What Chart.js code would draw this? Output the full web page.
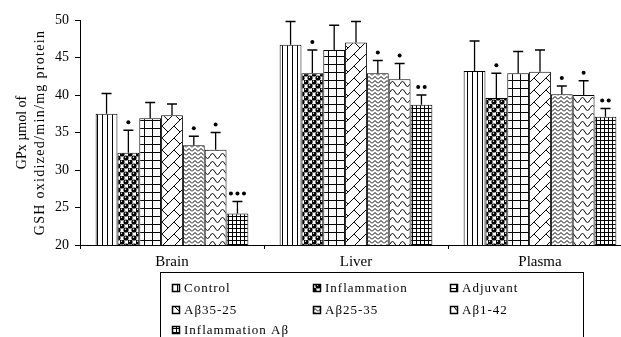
<!DOCTYPE html>
<html lang="en">
<head>
    <meta charset="UTF-8">
    <title>GPx activity</title>
    <script src="https://cdn.jsdelivr.net/npm/chart.js"></script>
    <style>
        html, body { margin: 0; padding: 0; overflow: hidden; background: #fff; }
        #wrap { width: 640px; height: 337px; position: relative; }
    </style>
</head>
<body>
<div id="wrap"><canvas id="gpxChart"></canvas></div>

<script>
    // data (mean and upper error)
    const categories = ['Brain', 'Liver', 'Plasma'];
    const seriesNames = ['Control', 'Inflammation', 'Adjuvant', 'A\u03b235-25', 'A\u03b225-35', 'A\u03b21-42', 'Inflammation A\u03b2'];

    const control = [37.5, 46.7, 43.2];
    const inflammation = [32.3, 42.9, 39.6];
    const adjuvant = [36.9, 46.0, 42.9];
    const ab3525 = [37.3, 47.0, 43.1];
    const ab2535 = [33.3, 42.9, 40.1];
    const ab142 = [32.7, 42.1, 40.0];
    const inflAb = [24.2, 38.7, 37.1];

    const controlErr = [2.7, 3.1, 4.0];
    const inflammationErr = [3.0, 3.1, 3.3];
    const adjuvantErr = [2.1, 3.3, 2.9];
    const ab3525Err = [1.5, 2.8, 2.9];
    const ab2535Err = [1.2, 1.7, 1.1];
    const ab142Err = [2.3, 2.1, 1.9];
    const inflAbErr = [1.6, 1.3, 1.1];

    // number of significance dots above each bar
    const controlSig = [0, 0, 0];
    const inflammationSig = [1, 1, 1];
    const adjuvantSig = [0, 0, 0];
    const ab3525Sig = [0, 0, 0];
    const ab2535Sig = [1, 1, 1];
    const ab142Sig = [1, 1, 1];
    const inflAbSig = [3, 2, 2];

    const yTicks = [20, 25, 30, 35, 40, 45, 50];
    const yTitle = ['GPx \u00b5mol of', 'GSH oxidized/min/mg protein'];

    const values = [control, inflammation, adjuvant, ab3525, ab2535, ab142, inflAb];
    const errors = [controlErr, inflammationErr, adjuvantErr, ab3525Err, ab2535Err, ab142Err, inflAbErr];
    const sigs = [controlSig, inflammationSig, adjuvantSig, ab3525Sig, ab2535Sig, ab142Sig, inflAbSig];

    const canvas = document.getElementById('gpxChart');
    const ctx = canvas.getContext('2d');

    function makePattern(w, h, draw) {
        const c = document.createElement('canvas');
        c.width = w; c.height = h;
        const g = c.getContext('2d');
        g.fillStyle = '#fff';
        g.fillRect(0, 0, w, h);
        g.fillStyle = '#000';
        g.strokeStyle = '#000';
        g.lineWidth = 1;
        draw(g, w, h);
        return ctx.createPattern(c, 'repeat');
    }

    function dot(g, x, y, r) {
        g.beginPath(); g.arc(x, y, r, 0, Math.PI * 2); g.fill();
    }

    const patterns = [
        makePattern(5, 5, g => g.fillRect(2, 0, 1, 5)),
        makePattern(8, 8, g => {
            [[2, 2], [6, 6], [6, -2], [-2, 6], [6, 10], [10, 6], [-2, -2], [10, 10], [10, -2], [-2, 10]]
                .forEach(p => dot(g, p[0], p[1], 2.6));
            g.fillStyle = '#fff';
            dot(g, 1.5, 1.3, 0.7);
            dot(g, 5.5, 5.3, 0.7);
        }),
        makePattern(8, 8, g => { g.fillRect(0, 0, 8, 1); g.fillRect(0, 0, 1, 8); }),
        makePattern(12, 12, g => {
            g.beginPath();
            g.moveTo(-1, 13); g.lineTo(13, -1);
            g.moveTo(6, 6); g.lineTo(12, 12);
            g.stroke();
        }),
        makePattern(6, 4, g => {
            g.beginPath();
            g.moveTo(0, 3.5); g.lineTo(3, 0.5); g.lineTo(6, 3.5);
            g.stroke();
        }),
        makePattern(10, 8, g => {
            g.beginPath();
            g.moveTo(0, 4);
            g.quadraticCurveTo(2.5, -1, 5, 4);
            g.quadraticCurveTo(7.5, 9, 10, 4);
            g.stroke();
        }),
        makePattern(4, 4, g => { g.fillRect(0, 0, 4, 1); g.fillRect(0, 0, 1, 4); })
    ];

    const serif = "'Liberation Serif', 'DejaVu Serif', serif";

    const errorBars = {
        id: 'errorBars',
        afterDatasetsDraw(chart) {
            const c = chart.ctx;
            const y = chart.scales.y;
            c.save();
            c.strokeStyle = '#000';
            c.fillStyle = '#000';
            c.lineWidth = 1.3;
            chart.data.datasets.forEach((ds, i) => {
                const meta = chart.getDatasetMeta(i);
                meta.data.forEach((bar, j) => {
                    const top = y.getPixelForValue(values[i][j] + errors[i][j]);
                    c.beginPath();
                    c.moveTo(bar.x, bar.y);
                    c.lineTo(bar.x, top);
                    c.moveTo(bar.x - 5, top);
                    c.lineTo(bar.x + 5, top);
                    c.stroke();
                    const n = sigs[i][j];
                    for (let k = 0; k < n; k++) {
                        const dx = (k - (n - 1) / 2) * 6.5;
                        dot(c, bar.x + dx, top - 8, 2);
                    }
                });
            });
            c.restore();
        }
    };

    // y title drawn by hand so the long line can get the wider spacing of the original
    const axisTitle = {
        id: 'axisTitle',
        afterDraw(chart) {
            const c = chart.ctx;
            const area = chart.chartArea;
            const cy = (area.top + area.bottom) / 2;
            c.save();
            c.fillStyle = '#000';
            c.font = '14px ' + serif;
            c.textAlign = 'center';
            c.textBaseline = 'middle';
            [[22, 0], [40, 1.3]].forEach((p, i) => {
                c.save();
                c.translate(p[0], cy);
                c.rotate(-Math.PI / 2);
                c.letterSpacing = p[1] + 'px';
                c.fillText(yTitle[i], 0, 0);
                c.restore();
            });
            c.restore();
        }
    };

    const boxLegend = {
        id: 'boxLegend',
        afterDraw(chart) {
            const c = chart.ctx;
            c.save();
            c.strokeStyle = '#000';
            c.lineWidth = 1;
            c.strokeRect(160.5, 272.5, 423, 80);
            c.font = '13px ' + serif;
            c.letterSpacing = '1px';
            c.textBaseline = 'middle';
            const cols = [172, 313, 450];
            const rows = [288, 310, 330];
            chart.data.datasets.forEach((ds, i) => {
                const x = cols[i % 3];
                const yy = rows[Math.floor(i / 3)];
                c.fillStyle = ds.backgroundColor;
                c.fillRect(x, yy - 4, 8, 8);
                c.strokeStyle = '#000';
                c.lineWidth = 1.5;
                c.strokeRect(x + 0.5, yy - 3.5, 7, 7);
                c.fillStyle = '#000';
                c.fillText(ds.label, x + 12, yy + 1);
            });
            c.restore();
        }
    };

    new Chart(ctx, {
        type: 'bar',
        data: {
            labels: categories,
            datasets: seriesNames.map((name, i) => ({
                label: name,
                data: values[i],
                backgroundColor: patterns[i],
                borderColor: '#000',
                borderWidth: 1,
                categoryPercentage: 0.83,
                barPercentage: 1
            }))
        },
        options: {
            responsive: true,
            maintainAspectRatio: false,
            animation: false,
            layout: { padding: { top: 20, right: 8, bottom: 70, left: 0 } },
            plugins: {
                legend: { display: false },
                tooltip: { enabled: false }
            },
            scales: {
                x: {
                    grid: { display: true, drawOnChartArea: false, tickLength: 4, color: '#000', offset: true },
                    border: { color: '#000', width: 1 },
                    ticks: { color: '#000', font: { family: serif, size: 15 }, padding: 4 },
                    afterFit: s => { s.height = 22; }
                },
                y: {
                    min: 20,
                    max: 50,
                    afterBuildTicks: s => { s.ticks = yTicks.map(v => ({ value: v })); },
                    grid: { display: true, drawOnChartArea: false, tickLength: 5, color: '#000' },
                    border: { color: '#000', width: 1 },
                    ticks: { color: '#000', font: { family: serif, size: 14 }, padding: 6 },
                    afterFit: s => { s.width = 80; }
                }
            }
        },
        plugins: [errorBars, axisTitle, boxLegend]
    });
</script>
</body>
</html>
